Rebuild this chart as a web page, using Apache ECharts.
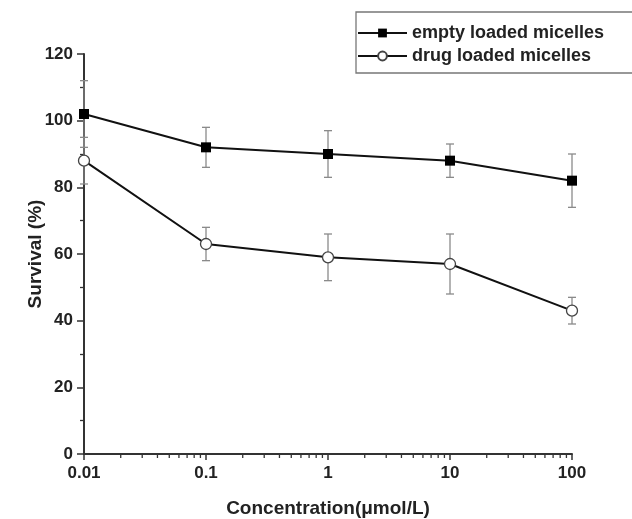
<!DOCTYPE html>
<html>
<head>
<meta charset="utf-8">
<script src="https://cdn.jsdelivr.net/npm/echarts@6/dist/echarts.min.js"></script>
<style>html,body{margin:0;padding:0;background:#fff}#c{width:632px;height:519px}</style>
</head>
<body>
<div id="c"></div>
<script>
const concentrations = [0.01, 0.1, 1, 10, 100];
const emptyMean = [102, 92, 90, 88, 82];
const emptyErr = [10, 6, 7, 5, 8];
const drugMean = [88, 63, 59, 57, 43];
const drugErr = [7, 5, 7, 9, 4];
const xTickLabels = {'0.01':'0.01','0.1':'0.1','1':'1','10':'10','100':'100'};
const xMinorTicks = [0.02,0.03,0.04,0.05,0.06,0.07,0.08,0.09,
  0.2,0.3,0.4,0.5,0.6,0.7,0.8,0.9,
  2,3,4,5,6,7,8,9,
  20,30,40,50,60,70,80,90];
const seriesNames = ['empty loaded micelles', 'drug loaded micelles'];

const font = 'Liberation Sans, Arial, sans-serif';
const chart = echarts.init(document.getElementById('c'), null, {renderer: 'canvas'});

function errData(mean, err) {
  return concentrations.map((x, i) => [x, mean[i] - err[i], mean[i] + err[i]]);
}
function errRender(params, api) {
  const x = api.value(0);
  const lo = api.coord([x, api.value(1)]);
  const hi = api.coord([x, api.value(2)]);
  const w = 4;
  const st = {stroke: '#8a8a8a', lineWidth: 1.3};
  return {type: 'group', children: [
    {type: 'line', shape: {x1: lo[0], y1: lo[1], x2: hi[0], y2: hi[1]}, style: st},
    {type: 'line', shape: {x1: lo[0]-w, y1: lo[1], x2: lo[0]+w, y2: lo[1]}, style: st},
    {type: 'line', shape: {x1: hi[0]-w, y1: hi[1], x2: hi[0]+w, y2: hi[1]}, style: st}
  ]};
}

const option = {
  backgroundColor: '#fff',
  animation: false,
  grid: {left: 84, right: 60, top: 54, bottom: 65, containLabel: false, outerBoundsMode: 'none'},
  legend: {
    data: seriesNames.map(n => ({name: n})),
    orient: 'vertical',
    left: 356, top: 12,
    itemWidth: 49, itemHeight: 11, itemGap: 5,
    padding: [12, 60, 8, 1],
    borderColor: '#777', borderWidth: 1.3,
    textStyle: {fontFamily: font, fontWeight: 'bold', fontSize: 18, lineHeight: 18, color: '#222'}
  },
  xAxis: {
    type: 'log', logBase: 10, min: 0.01, max: 100,
    name: 'Concentration(μmol/L)', nameLocation: 'middle', nameGap: 45, nameMoveOverlap: false,
    nameTextStyle: {fontFamily: font, fontWeight: 'bold', fontSize: 19, color: '#222'},
    axisLine: {lineStyle: {color: '#333', width: 2}},
    axisTick: {inside: false, length: 6, lineStyle: {color: '#333', width: 1.5}},
    axisLabel: {fontFamily: font, fontWeight: 'bold', fontSize: 17, color: '#222', margin: 11,
      formatter: v => { const k = String(+v.toPrecision(6)); return xTickLabels[k] !== undefined ? xTickLabels[k] : ''; }},
    splitLine: {show: false}
  },
  yAxis: {
    type: 'value', min: 0, max: 120, interval: 20,
    name: 'Survival (%)', nameLocation: 'middle', nameGap: 39, nameRotate: 90, nameMoveOverlap: false,
    nameTextStyle: {fontFamily: font, fontWeight: 'bold', fontSize: 19, color: '#222'},
    axisLine: {show: true, lineStyle: {color: '#333', width: 2}},
    axisTick: {show: true, length: 7, lineStyle: {color: '#333', width: 1.5}},
    minorTick: {show: true, splitNumber: 2, length: 4, lineStyle: {color: '#333', width: 1.3}},
    axisLabel: {fontFamily: font, fontWeight: 'bold', fontSize: 17, color: '#222', margin: 11},
    splitLine: {show: false}
  },
  series: [
    {
      type: 'custom', name: 'minorTicksX', silent: true, clip: false, z: 1,
      data: xMinorTicks.map(v => [v, 0]),
      renderItem: (params, api) => {
        const p = api.coord([api.value(0), 0]);
        return {type: 'line', shape: {x1: p[0], y1: p[1], x2: p[0], y2: p[1] + 4}, style: {stroke: '#333', lineWidth: 1.3}};
      }
    },
    {type: 'custom', name: 'errEmpty', silent: true, clip: false, z: 1, data: errData(emptyMean, emptyErr), renderItem: errRender},
    {type: 'custom', name: 'errDrug', silent: true, clip: false, z: 1, data: errData(drugMean, drugErr), renderItem: errRender},
    {
      type: 'line', name: seriesNames[0], clip: false, z: 3,
      data: concentrations.map((x, i) => [x, emptyMean[i]]),
      symbol: 'rect', symbolSize: 10, showSymbol: true,
      lineStyle: {color: '#111', width: 2},
      itemStyle: {color: '#000', borderColor: '#000', borderWidth: 0}
    },
    {
      type: 'line', name: seriesNames[1], clip: false, z: 3,
      data: concentrations.map((x, i) => [x, drugMean[i]]),
      symbol: 'circle', symbolSize: 11, showSymbol: true,
      lineStyle: {color: '#111', width: 2},
      itemStyle: {color: '#fff', borderColor: '#444', borderWidth: 1.3}
    }
  ]
};
chart.setOption(option);
</script>
</body>
</html>
